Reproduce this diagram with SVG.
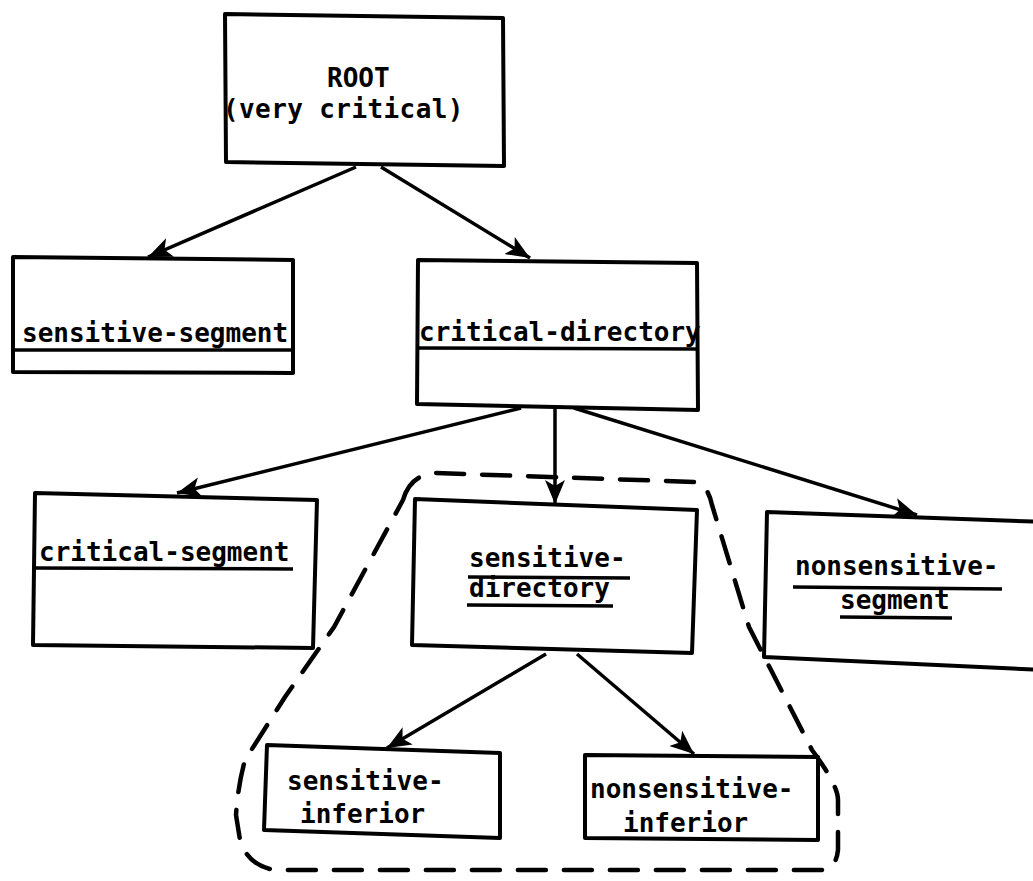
<svg xmlns="http://www.w3.org/2000/svg" width="1033" height="881" viewBox="0 0 1033 881">
<defs>
<style>
.box{fill:#fff;stroke:#000;stroke-width:4;stroke-linejoin:round}
.ln{fill:none;stroke:#000;stroke-width:3.5}
.ul{fill:none;stroke:#000;stroke-width:3.5}
.dash{fill:none;stroke:#000;stroke-width:4.5;stroke-dasharray:28 18;stroke-linecap:round}
text{font-family:"DejaVu Sans Mono","Liberation Mono",monospace;font-size:26px;font-weight:bold;fill:#000}
</style>
<marker id="ah" markerUnits="userSpaceOnUse" markerWidth="26" markerHeight="22" refX="24" refY="11" orient="auto">
<path d="M0,1 L24,11 L0,21 L6,11 Z" fill="#000"/>
</marker>
</defs>
<rect width="1033" height="881" fill="#fff"/>
<g id="group-boundary">
<path class="dash" d="M403,500 Q410,475 435,473 L695,482 Q708,485 712,505 L749,627 L812,750 Q838,785 838,800 L838,850 Q836,870 820,870 L275,870 Q248,866 240,840 L236,815 Q238,785 245,760 L285,697 L334,627 Z"/>
</g>
<g id="connectors">
<line class="ln" x1="356" y1="167" x2="148" y2="257" marker-end="url(#ah)"/>
<line class="ln" x1="381" y1="167" x2="530" y2="258" marker-end="url(#ah)"/>
<line class="ln" x1="521" y1="408" x2="177" y2="493" marker-end="url(#ah)"/>
<line class="ln" x1="555" y1="408" x2="555" y2="504" marker-end="url(#ah)"/>
<line class="ln" x1="574" y1="408" x2="917" y2="515" marker-end="url(#ah)"/>
<line class="ln" x1="546" y1="654" x2="387" y2="748" marker-end="url(#ah)"/>
<line class="ln" x1="577" y1="654" x2="694" y2="754" marker-end="url(#ah)"/>
</g>
<g id="root">
<polygon class="box" points="225,14 503,18 504,166 226,162"/>
<text x="327" y="87">ROOT</text>
<text x="223" y="118" letter-spacing="0.4">(very critical)</text>
</g>
<g id="sensitive-segment">
<polygon class="box" points="13,257 293,260 293,373 13,372"/>
<line class="ul" x1="13" y1="350" x2="293" y2="350"/>
<text x="22" y="342">sensitive-segment</text>
</g>
<g id="critical-directory">
<polygon class="box" points="418,260 697,263 698,410 417,404"/>
<line class="ul" x1="418" y1="348" x2="697" y2="349"/>
<text x="419" y="341">critical-directory</text>
</g>
<g id="critical-segment">
<polygon class="box" points="35,493 317,500 313,648 33,645"/>
<line class="ul" x1="35" y1="568" x2="293" y2="569"/>
<text x="39" y="561">critical-segment</text>
</g>
<g id="sensitive-directory">
<polygon class="box" points="415,499 697,510 692,653 412,645"/>
<text x="469" y="567">sensitive-</text>
<line class="ul" x1="468" y1="577" x2="630" y2="578"/>
<text x="469" y="597">directory</text>
<line class="ul" x1="467" y1="605" x2="613" y2="606"/>
</g>
<g id="nonsensitive-segment">
<polygon class="box" points="767,512 1045,522 1045,670 764,657"/>
<text x="795" y="575">nonsensitive-</text>
<line class="ul" x1="793" y1="587" x2="1002" y2="589"/>
<text x="840" y="609">segment</text>
<line class="ul" x1="840" y1="617" x2="952" y2="618"/>
</g>
<g id="sensitive-inferior">
<polygon class="box" points="267,745 500,753 500,838 264,830"/>
<text x="287" y="790">sensitive-</text>
<text x="300" y="823">inferior</text>
</g>
<g id="nonsensitive-inferior">
<polygon class="box" points="585,755 818,757 818,840 585,838"/>
<text x="590" y="798">nonsensitive-</text>
<text x="623" y="832">inferior</text>
</g>
</svg>
